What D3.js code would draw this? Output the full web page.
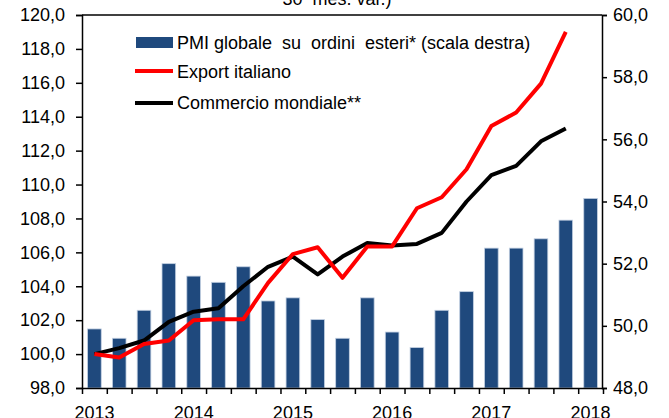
<!DOCTYPE html>
<html>
<head>
<meta charset="utf-8">
<script src="https://cdn.jsdelivr.net/npm/d3@7"></script>
<style>
  body { margin: 0; background: #fff; }
  text { font-family: "Liberation Sans", Arial, sans-serif; fill: #000; }
</style>
</head>
<body>
<div id="chart"></div>
<script>
// Define SVG area dimensions
let svgWidth = 669;
let svgHeight = 418;

// Plot area edges
let margin = { top: 15, right: 67, bottom: 30, left: 82 };
let plotRight = svgWidth - margin.right;
let plotBottom = svgHeight - margin.bottom;

// Data (quarters 2013 Q1 -> 2018 Q1)
let quarters = d3.range(21);
let yearLabels = ["2013", "", "", "", "2014", "", "", "", "2015", "", "", "",
  "2016", "", "", "", "2017", "", "", "", "2018"];

// PMI globale su ordini esteri (right scale)
let pmiValues = [49.9, 49.6, 50.5, 52.0, 51.6, 51.4, 51.9, 50.8, 50.9, 50.2,
  49.6, 50.9, 49.8, 49.3, 50.5, 51.1, 52.5, 52.5, 52.8, 53.4, 54.1];

// Export italiano (left scale)
let exportValues = [100.0, 99.8, 100.6, 100.8, 102.0, 102.05, 102.05, 104.2,
  105.9, 106.3, 104.5, 106.35, 106.35, 108.6, 109.25, 110.9, 113.45, 114.25,
  115.95, 119.0];

// Commercio mondiale (left scale)
let worldValues = [100.0, 100.35, 100.8, 101.9, 102.5, 102.7, 104.0, 105.15,
  105.75, 104.7, 105.75, 106.55, 106.4, 106.5, 107.15, 109.0, 110.55, 111.1,
  112.55, 113.3];

let leftTicks = d3.range(98, 120.1, 2);
let rightTicks = d3.range(48, 60.1, 2);

let svg = d3.select("#chart")
  .append("svg")
  .attr("width", svgWidth)
  .attr("height", svgHeight);

// Scales
let xBand = d3.scaleBand()
  .domain(quarters)
  .range([margin.left, plotRight + 1])
  .paddingInner(0.45)
  .paddingOuter(0.225);

let xEdge = d3.scaleLinear()
  .domain([0, quarters.length])
  .range([margin.left, plotRight + 1]);

let yLeft = d3.scaleLinear().domain([98, 120]).range([plotBottom, margin.top]);
let yRight = d3.scaleLinear().domain([48, 60]).range([plotBottom, margin.top]);

let fmt = (d) => d.toFixed(1).replace(".", ",");

// Bars
svg.append("g")
  .selectAll("rect")
  .data(pmiValues)
  .enter()
  .append("rect")
  .attr("x", (d, i) => xBand(i))
  .attr("y", (d) => yRight(d))
  .attr("width", xBand.bandwidth())
  .attr("height", (d) => yRight(48) - yRight(d))
  .attr("fill", "#1f497d")
  .attr("stroke", "#c3d0e2")
  .attr("stroke-width", 0.8);

// Lines
let cx = (i) => xBand(i) + xBand.bandwidth() / 2;
let line = d3.line()
  .x((d, i) => cx(i))
  .y((d) => yLeft(d));

svg.append("path")
  .datum(worldValues)
  .attr("fill", "none")
  .attr("stroke", "#000")
  .attr("stroke-width", 4)
  .attr("stroke-linejoin", "round")
  .attr("d", line);

svg.append("path")
  .datum(exportValues)
  .attr("fill", "none")
  .attr("stroke", "#ff0000")
  .attr("stroke-width", 4)
  .attr("stroke-linejoin", "round")
  .attr("d", line);

// Axes
let leftAxis = svg.append("g")
  .attr("transform", `translate(${margin.left}, 0)`)
  .call(d3.axisLeft(yLeft).tickValues(leftTicks).tickFormat(fmt)
    .tickSize(6).tickPadding(11));

let rightAxis = svg.append("g")
  .attr("transform", `translate(${plotRight}, 0)`)
  .call(d3.axisRight(yRight).tickValues(rightTicks).tickFormat(fmt)
    .tickSize(5).tickPadding(6));

let bottomAxis = svg.append("g")
  .attr("transform", `translate(0, ${plotBottom})`)
  .call(d3.axisBottom(xEdge).tickValues(d3.range(quarters.length + 1))
    .tickFormat("").tickSize(6).tickSizeOuter(0));

let yearAxis = svg.append("g")
  .attr("transform", `translate(0, ${plotBottom})`)
  .call(d3.axisBottom(xBand).tickFormat((d, i) => yearLabels[i])
    .tickSize(0).tickPadding(18));

yearAxis.select(".domain").remove();

[leftAxis, rightAxis, bottomAxis, yearAxis].forEach((g) => {
  g.selectAll("text")
    .style("font-size", "18px")
    .style("font-family", "'Liberation Sans', Arial, sans-serif");
  g.selectAll("line, path").attr("stroke", "#000").attr("stroke-width", 1.5);
});

// Top border
svg.append("line")
  .attr("x1", margin.left)
  .attr("x2", plotRight)
  .attr("y1", margin.top)
  .attr("y2", margin.top)
  .attr("stroke", "#000")
  .attr("stroke-width", 1.5);

// Title (cut off at top)
svg.append("text")
  .attr("x", 337)
  .attr("y", 5)
  .attr("text-anchor", "middle")
  .style("font-size", "18px")
  .style("white-space", "pre")
  .text("30  mes. var.)");

// Legend
let legend = svg.append("g");

legend.append("rect")
  .attr("x", 136).attr("y", 37)
  .attr("width", 37).attr("height", 11)
  .attr("fill", "#1f497d");

legend.append("line")
  .attr("x1", 135).attr("x2", 173)
  .attr("y1", 71).attr("y2", 71)
  .attr("stroke", "#ff0000").attr("stroke-width", 4);

legend.append("line")
  .attr("x1", 135).attr("x2", 173)
  .attr("y1", 103).attr("y2", 103)
  .attr("stroke", "#000").attr("stroke-width", 4);

let legendLabels = ["PMI globale  su  ordini  esteri* (scala destra)",
  "Export italiano", "Commercio mondiale**"];
let legendY = [48.5, 77.5, 109];

legend.selectAll(".lbl")
  .data(legendLabels)
  .enter()
  .append("text")
  .classed("lbl", true)
  .attr("x", 177)
  .attr("y", (d, i) => legendY[i])
  .style("font-size", "18px")
  .style("white-space", "pre")
  .text((d) => d);
</script>
</body>
</html>
